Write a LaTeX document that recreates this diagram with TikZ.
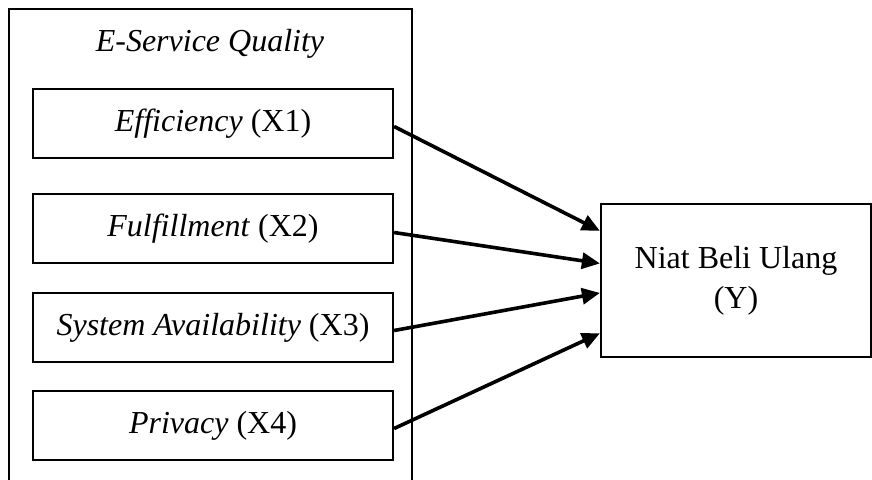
\documentclass[tikz,border=0pt]{standalone}
\usepackage{fontspec}
\setmainfont{Liberation Serif}
\usetikzlibrary{arrows.meta,calc}
\begin{document}
\begin{tikzpicture}[x=0.5pt,y=-0.5pt,
  every node/.style={font=\fontsize{16}{20}\selectfont},
  varbox/.style={draw,line width=1.1pt,minimum width=180pt,minimum height=34.5pt,inner sep=0pt},
  outerbox/.style={draw,line width=1.1pt,minimum width=201.5pt,minimum height=236pt,inner sep=0pt},
  ybox/.style={draw,line width=1.1pt,minimum width=135pt,minimum height=76.5pt,inner sep=0pt,align=center},
  link/.style={line width=1.8pt,-{Triangle[length=9pt,width=8pt]}}]
\useasboundingbox (0,0) rectangle (872,479);
\node[outerbox] (esq) at (210.5,245) {};
\node (title) at (210,44) {\textit{E-Service Quality}};
\node[varbox] (x1) at (213,123.5) {\textit{Efficiency} (X1)};
\node[varbox] (x2) at (213,228.5) {\textit{Fulfillment} (X2)};
\node[varbox] (x3) at (213,327.5) {\textit{System Availability} (X3)};
\node[varbox] (x4) at (213,425.5) {\textit{Privacy} (X4)};
\node[ybox] (y) at (736,280.5) {Niat Beli Ulang\\(Y)};
\coordinate (e1) at ($(y.north west)!0.18!(y.south west)$);
\coordinate (e2) at ($(y.north west)!0.39!(y.south west)$);
\coordinate (e3) at ($(y.north west)!0.58!(y.south west)$);
\coordinate (e4) at ($(y.north west)!0.84!(y.south west)$);
\draw[link] ([yshift=-1.5pt]x1.east) -- (e1);
\draw[link] ([yshift=-2pt]x2.east) -- (e2);
\draw[link] ([yshift=-1.5pt]x3.east) -- (e3);
\draw[link] ([yshift=-1.5pt]x4.east) -- (e4);
\end{tikzpicture}
\end{document}
